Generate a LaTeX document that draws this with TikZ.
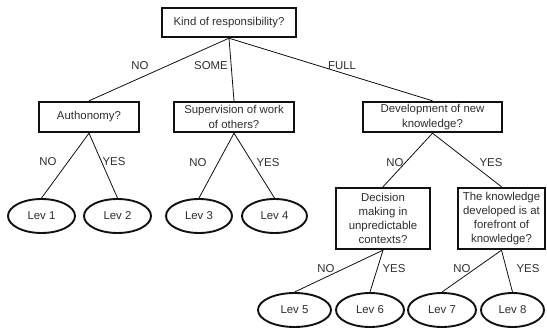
\documentclass[tikz,border=0pt]{standalone}
\usepackage{fontspec}
\setmainfont{Liberation Sans}
\usetikzlibrary{shapes.geometric}
\definecolor{Ink}{HTML}{2E2E2E}
\definecolor{Edge}{HTML}{111111}
\tikzset{
 qbox/.style={draw=Edge, line width=2.4pt, fill=white, align=center, inner sep=1pt, text=Ink, font=\fontsize{11.4}{14.2}\selectfont},
 levell/.style={draw=Edge, ellipse, line width=1.9pt, fill=white, inner sep=0pt, minimum height=34pt, text=Ink, font=\fontsize{11.4}{14}\selectfont},
 branch/.style={draw=Edge, line width=0.8pt},
 answer/.style={text=Ink, font=\fontsize{11.4}{14}\selectfont, inner sep=0pt}
}
\begin{document}
\begin{tikzpicture}[x=1pt,y=-1pt]
\useasboundingbox[fill=white] (0,0) rectangle (547,329);
% questions
\node[qbox,minimum width=134pt,minimum height=29pt] (resp) at (229,22.5) {Kind of responsibility?};
\node[qbox,minimum width=100pt,minimum height=30pt] (auton) at (89,117) {Authonomy?};
\node[qbox,minimum width=120pt,minimum height=30pt] (superv) at (234,117) {Supervision of work\\of others?};
\node[qbox,minimum width=139pt,minimum height=30pt] (devel) at (432.5,117) {Development of new\\knowledge?};
\node[qbox,minimum width=94pt,minimum height=61pt] (decis) at (383,218.5) {Decision\\making in\\unpredictable\\contexts?};
\node[qbox,minimum width=87pt,minimum height=61pt] (front) at (501.5,218.5) {The knowledge\\developed is at\\forefront of\\knowledge?};
% levels
\node[levell,minimum width=67pt] (lev1) at (41.5,216) {Lev 1};
\node[levell,minimum width=67pt] (lev2) at (117.5,216) {Lev 2};
\node[levell,minimum width=66pt] (lev3) at (199,216) {Lev 3};
\node[levell,minimum width=65pt] (lev4) at (274.5,216) {Lev 4};
\node[levell,minimum width=73pt] (lev5) at (294.5,310) {Lev 5};
\node[levell,minimum width=68pt] (lev6) at (370,310) {Lev 6};
\node[levell,minimum width=68pt] (lev7) at (442,310) {Lev 7};
\node[levell,minimum width=63pt] (lev8) at (512.5,310) {Lev 8};
% branches
\draw[branch] (resp.south) -- (auton.north);
\draw[branch] (resp.south) -- (superv.north);
\draw[branch] (resp.south) -- (devel.north);
\draw[branch] (auton.south) -- (lev1.north);
\draw[branch] (auton.south) -- (lev2.north);
\draw[branch] (superv.south) -- (lev3.north);
\draw[branch] (superv.south) -- (lev4.north);
\draw[branch] (devel.south) -- (decis.north);
\draw[branch] (devel.south) -- (front.north);
\draw[branch] (decis.south) -- (lev5.north);
\draw[branch] (decis.south) -- (lev6.north);
\draw[branch] (front.south) -- (lev7.north);
\draw[branch] (front.south) -- (lev8.north);
% answers
\node[answer] (aNo) at (140,66) {NO};
\node[answer] (aSome) at (211,66) {SOME};
\node[answer] (aFull) at (342,66) {FULL};
\node[answer] (bNo) at (48,162) {NO};
\node[answer] (bYes) at (114,162) {YES};
\node[answer] (cNo) at (198,163) {NO};
\node[answer] (cYes) at (268,163) {YES};
\node[answer] (dNo) at (395,163) {NO};
\node[answer] (dYes) at (491,163) {YES};
\node[answer] (eNo) at (326,269) {NO};
\node[answer] (eYes) at (394,269) {YES};
\node[answer] (fNo) at (462,269) {NO};
\node[answer] (fYes) at (528,269) {YES};
\end{tikzpicture}
\end{document}
